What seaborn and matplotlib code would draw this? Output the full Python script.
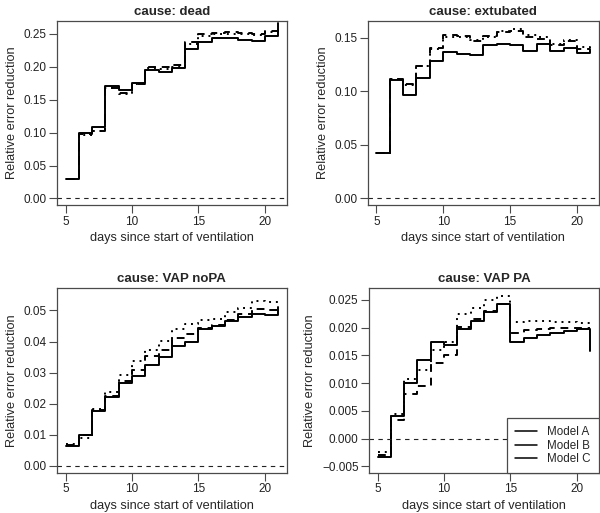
import numpy as np
import pandas as pd
import matplotlib
matplotlib.use("Agg")
import matplotlib.pyplot as plt
from matplotlib.lines import Line2D
import seaborn as sns


# ── data: relative error reduction per day (step values, days 5..21) ──
days = list(range(5, 22))
models = ["Model A", "Model B", "Model C"]

dead_a = [0.030, 0.099, 0.108, 0.171, 0.164, 0.175, 0.195, 0.192, 0.198, 0.227,
          0.238, 0.244, 0.244, 0.241, 0.239, 0.246, 0.266]
dead_b = [0.030, 0.098, 0.103, 0.168, 0.160, 0.174, 0.200, 0.199, 0.203, 0.237,
          0.249, 0.251, 0.252, 0.251, 0.249, 0.254, 0.258]
dead_c = [0.030, 0.097, 0.102, 0.167, 0.159, 0.173, 0.198, 0.196, 0.200, 0.235,
          0.246, 0.250, 0.250, 0.249, 0.248, 0.252, 0.255]

extub_a = [0.042, 0.110, 0.0966, 0.1125, 0.128, 0.137, 0.135, 0.134, 0.143, 0.144,
           0.143, 0.138, 0.144, 0.1375, 0.140, 0.136, 0.137]
extub_b = [0.042, 0.111, 0.107, 0.1235, 0.140, 0.153, 0.152, 0.147, 0.152, 0.155,
           0.156, 0.151, 0.149, 0.143, 0.147, 0.139, 0.137]
extub_c = [0.042, 0.111, 0.106, 0.124, 0.139, 0.151, 0.151, 0.148, 0.151, 0.156,
           0.158, 0.153, 0.151, 0.144, 0.148, 0.141, 0.138]

nopa_a = [0.0065, 0.0100, 0.0178, 0.0223, 0.0267, 0.0290, 0.0324, 0.0350, 0.0385, 0.0400,
          0.0439, 0.0451, 0.0466, 0.0480, 0.0490, 0.0484, 0.0510]
nopa_b = [0.0068, 0.0100, 0.0180, 0.0225, 0.0272, 0.0310, 0.0355, 0.0373, 0.0410, 0.0423,
          0.0443, 0.0452, 0.0470, 0.0490, 0.0505, 0.0500, 0.0510]
nopa_c = [0.0072, 0.0090, 0.0182, 0.0238, 0.0293, 0.0338, 0.0374, 0.0402, 0.0441, 0.0456,
          0.0470, 0.0473, 0.0495, 0.0509, 0.0530, 0.0527, 0.0540]

pa_a = [-0.0033, 0.0041, 0.0101, 0.0142, 0.0174, 0.0169, 0.0197, 0.0212, 0.0228, 0.0242,
        0.0175, 0.0181, 0.0187, 0.0191, 0.0194, 0.0197, 0.0158]
pa_b = [-0.0030, 0.0033, 0.0080, 0.0095, 0.0136, 0.0150, 0.0201, 0.0216, 0.0230, 0.0242,
        0.0191, 0.0195, 0.0198, 0.0199, 0.0199, 0.0199, 0.0199]
pa_c = [-0.0025, 0.0045, 0.0107, 0.0123, 0.0159, 0.0174, 0.0225, 0.0236, 0.0250, 0.0257,
        0.0211, 0.0213, 0.0213, 0.0210, 0.0210, 0.0208, 0.0204]

titles = ["cause: dead", "cause: extubated", "cause: VAP noPA", "cause: VAP PA"]
panel_data = [(dead_a, dead_b, dead_c), (extub_a, extub_b, extub_c),
              (nopa_a, nopa_b, nopa_c), (pa_a, pa_b, pa_c)]
yticks = [[0.00, 0.05, 0.10, 0.15, 0.20, 0.25],
          [0.00, 0.05, 0.10, 0.15],
          [0.00, 0.01, 0.02, 0.03, 0.04, 0.05],
          [-0.005, 0.000, 0.005, 0.010, 0.015, 0.020, 0.025]]
ytick_fmt = ["{:.2f}", "{:.2f}", "{:.2f}", "{:.3f}"]
ylims = [(-0.0102, 0.2693), (-0.0066, 0.1656), (-0.00226, 0.0573), (-0.0062, 0.0272)]
xticks = [5, 10, 15, 20]


def make_frame(series):
    rows = []
    for name, vals in zip(models, series):
        for d, v in zip(days, vals):
            rows.append({"day": d, "value": v, "model": name})
    return pd.DataFrame(rows)


# ── style ──
sns.set_style("ticks")
plt.rcParams["font.family"] = ["Liberation Sans", "DejaVu Sans"]
plt.rcParams["axes.edgecolor"] = "#4a4a4a"
plt.rcParams["xtick.color"] = "#4a4a4a"
plt.rcParams["ytick.color"] = "#4a4a4a"
plt.rcParams["xtick.labelcolor"] = "#222222"
plt.rcParams["ytick.labelcolor"] = "#222222"

fig = plt.figure(figsize=(6, 5.13), dpi=100)
rects = [[0.095, 0.600, 0.383, 0.359],
         [0.613, 0.600, 0.385, 0.359],
         [0.095, 0.078, 0.383, 0.361],
         [0.615, 0.078, 0.383, 0.361]]

dash_styles = ["", (4, 3), (1, 2.5)]

for i, rect in enumerate(rects):
    ax = fig.add_axes(rect)
    df = make_frame(panel_data[i])
    sns.lineplot(data=df, x="day", y="value", style="model", dashes=dash_styles,
                 color="black", drawstyle="steps-post", linewidth=1.4,
                 estimator=None, legend=False, ax=ax)
    ax.axhline(0, color="#222222", linestyle=(0, (4, 4)), linewidth=0.8)

    ax.set_xlim(4.36, 21.64)
    ax.set_ylim(*ylims[i])
    ax.set_xticks(xticks)
    ax.set_yticks(yticks[i])
    ax.set_yticklabels([ytick_fmt[i].format(t).replace("-", "\u2212") for t in yticks[i]])
    ax.tick_params(direction="out", length=5.5, width=0.8, pad=2, labelsize=8.5)
    for sp in ax.spines.values():
        sp.set_linewidth(0.9)

    ax.set_title(titles[i], fontsize=9.5, fontweight="bold", pad=4)
    ax.set_xlabel("days since start of ventilation", fontsize=9.2, labelpad=3)
    ax.set_ylabel("Relative error reduction", fontsize=9.2, labelpad=4)

    if i == 3:
        handles = [Line2D([0], [0], color="black", linewidth=1.1) for _ in models]
        leg = ax.legend(handles, models, loc="lower right", borderaxespad=0,
                        fontsize=8.4, handlelength=1.9, handletextpad=0.85,
                        labelspacing=0.1, fancybox=False, framealpha=1,
                        borderpad=0.7)
        leg.get_frame().set_edgecolor("#4a4a4a")
        leg.get_frame().set_linewidth(0.9)

fig.savefig("out.png", dpi=100)
